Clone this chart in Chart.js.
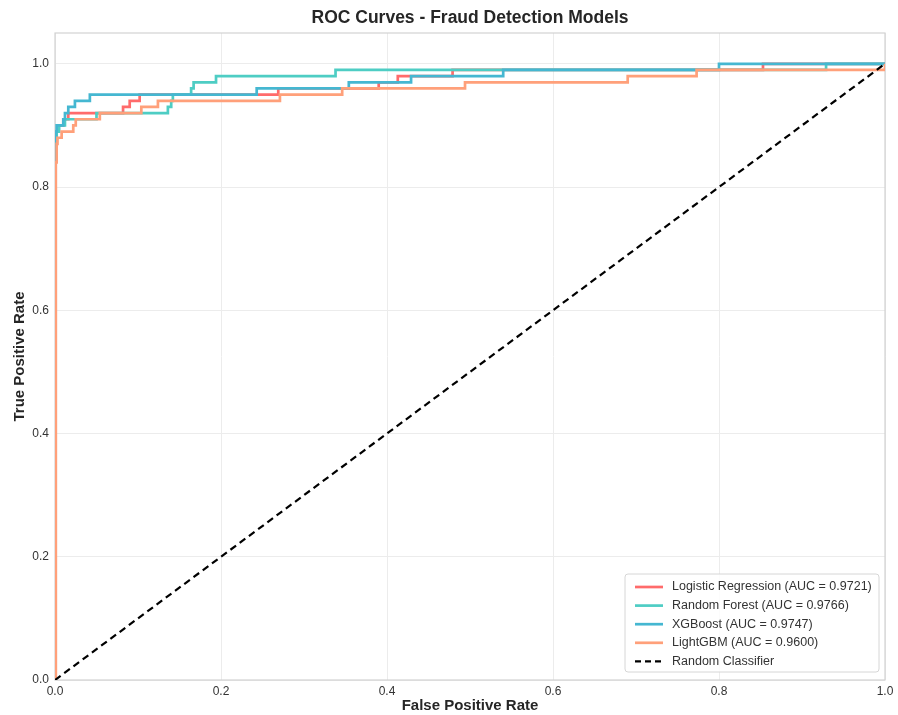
<!DOCTYPE html>
<html>
<head>
<meta charset="utf-8">
<script src="https://cdn.jsdelivr.net/npm/chart.js@4"></script>
<style>
  html, body { margin: 0; padding: 0; background: #fff; }
  #wrap { width: 898px; height: 715px; }
</style>
</head>
<body>
<div id="wrap"><canvas id="rocChart"></canvas></div>
<script>
// ROC points (fpr where the curve steps up, tpr after the step)
const lrFpr  = [0, 0,    0.001, 0.003, 0.010, 0.016, 0.082, 0.090, 0.102, 0.269, 0.390, 0.413, 0.479, 0.853, 1.0];
const lrTpr  = [0, 0.86, 0.89,  0.90,  0.91,  0.92,  0.93,  0.94,  0.95,  0.96,  0.97,  0.98,  0.99,  1.0,   1.0];

const rfFpr  = [0, 0,    0.002, 0.005, 0.012, 0.050, 0.136, 0.140, 0.142, 0.164, 0.167, 0.194, 0.338, 0.929, 1.0];
const rfTpr  = [0, 0.86, 0.89,  0.90,  0.91,  0.92,  0.93,  0.94,  0.95,  0.96,  0.97,  0.98,  0.99,  1.0,   1.0];

const xgbFpr = [0, 0,    0.001, 0.002, 0.010, 0.012, 0.016, 0.024, 0.042, 0.243, 0.354, 0.429, 0.540, 0.800, 1.0];
const xgbTpr = [0, 0.86, 0.89,  0.90,  0.91,  0.92,  0.93,  0.94,  0.95,  0.96,  0.97,  0.98,  0.99,  1.0,   1.0];

const lgbFpr = [0, 0.001, 0.002, 0.003, 0.008, 0.022, 0.025, 0.054, 0.104, 0.124, 0.271, 0.346, 0.494, 0.690, 0.773, 1.0];
const lgbTpr = [0, 0.84,  0.87,  0.88,  0.89,  0.90,  0.91,  0.92,  0.93,  0.94,  0.95,  0.96,  0.97,  0.98,  0.99,  1.0];

const randFpr = [0, 1];
const randTpr = [0, 1];

const modelNames = ['Logistic Regression', 'Random Forest', 'XGBoost', 'LightGBM'];
const aucValues  = [0.9721, 0.9766, 0.9747, 0.9600];
const colors     = ['#FF6B6B', '#4ECDC4', '#45B7D1', '#FFA07A'];
const xTicks = [0, 0.2, 0.4, 0.6, 0.8, 1.0];
const yTicks = [0, 0.2, 0.4, 0.6, 0.8, 1.0];

const FONT = "'Liberation Sans', Arial, sans-serif";

function pts(xs, ys) {
  return xs.map((x, i) => ({ x: x, y: ys[i] }));
}

const curves = [[lrFpr, lrTpr], [rfFpr, rfTpr], [xgbFpr, xgbTpr], [lgbFpr, lgbTpr]];

const datasets = curves.map((c, i) => ({
  label: modelNames[i] + ' (AUC = ' + aucValues[i].toFixed(4) + ')',
  data: pts(c[0], c[1]),
  borderColor: colors[i],
  backgroundColor: colors[i],
  borderWidth: 2.7,
  pointRadius: 0,
  stepped: true,
  fill: false,
  order: 4 - i + 1
}));
datasets.push({
  label: 'Random Classifier',
  data: pts(randFpr, randTpr),
  borderColor: '#000',
  backgroundColor: '#000',
  borderWidth: 2.2,
  borderDash: [7, 4.5],
  pointRadius: 0,
  fill: false,
  order: 0
});

// title centred over the plot area, frame and legend box inside the plot
const decor = {
  id: 'decor',
  beforeDatasetsDraw(chart) {
    const { ctx, chartArea: a } = chart;
    ctx.save();
    ctx.strokeStyle = '#d2d2d2';
    ctx.lineWidth = 1.2;
    ctx.strokeRect(a.left, a.top, a.right - a.left, a.bottom - a.top);
    ctx.restore();
  },
  afterDraw(chart) {
    const { ctx, chartArea: a } = chart;
    ctx.save();
    ctx.fillStyle = '#262626';
    ctx.font = 'bold 17.5px ' + FONT;
    ctx.textAlign = 'center';
    ctx.textBaseline = 'middle';
    ctx.fillText('ROC Curves - Fraud Detection Models', (a.left + a.right) / 2, 18);

    // legend
    const ds = chart.data.datasets;
    const rowH = 18.6;
    const boxW = 254, boxH = 98;
    const bx = a.right - 6 - boxW, by = a.bottom - 8 - boxH;
    ctx.fillStyle = 'rgba(255,255,255,0.85)';
    ctx.strokeStyle = '#d6d6d6';
    ctx.lineWidth = 1;
    ctx.beginPath();
    ctx.roundRect(bx, by, boxW, boxH, 3);
    ctx.fill();
    ctx.stroke();
    ctx.font = '12.5px ' + FONT;
    ctx.textAlign = 'left';
    ds.forEach((d, i) => {
      const y = by + 13 + rowH * i;
      ctx.strokeStyle = d.borderColor;
      ctx.lineWidth = d.borderWidth;
      ctx.setLineDash(d.borderDash ? [6, 4] : []);
      ctx.beginPath();
      ctx.moveTo(bx + 10, y);
      ctx.lineTo(bx + 38, y);
      ctx.stroke();
      ctx.setLineDash([]);
      ctx.fillStyle = '#333';
      ctx.fillText(d.label, bx + 47, y);
    });
    ctx.restore();
  }
};

new Chart(document.getElementById('rocChart'), {
  type: 'line',
  data: { datasets: datasets },
  plugins: [decor],
  options: {
    responsive: true,
    maintainAspectRatio: false,
    animation: false,
    layout: { padding: { top: 33, right: 13, left: 0, bottom: 0 } },
    plugins: {
      legend: { display: false },
      title: { display: false },
      tooltip: { enabled: false }
    },
    scales: {
      x: {
        type: 'linear',
        min: 0,
        max: 1,
        afterFit(s) { s.height = 35; },
        afterBuildTicks(s) { s.ticks = xTicks.map(v => ({ value: v })); },
        grid: { color: '#ececec', lineWidth: 1, drawTicks: false },
        border: { display: false },
        ticks: {
          padding: 4,
          color: '#333',
          font: { family: FONT, size: 12 },
          callback: v => v.toFixed(1)
        },
        title: {
          display: true,
          text: 'False Positive Rate',
          color: '#262626',
          font: { family: FONT, size: 15, weight: 'bold' },
          padding: { top: 0, bottom: 0 }
        }
      },
      y: {
        type: 'linear',
        min: 0,
        max: 1.05,
        afterFit(s) { s.width = 55; },
        afterBuildTicks(s) { s.ticks = yTicks.map(v => ({ value: v })); },
        grid: { color: '#ececec', lineWidth: 1, drawTicks: false },
        border: { display: false },
        ticks: {
          padding: 6,
          color: '#333',
          font: { family: FONT, size: 12 },
          callback: v => v.toFixed(1)
        },
        title: {
          display: true,
          text: 'True Positive Rate',
          color: '#262626',
          font: { family: FONT, size: 15, weight: 'bold' },
          padding: { top: 11, bottom: 0 }
        }
      }
    }
  }
});
</script>
</body>
</html>
